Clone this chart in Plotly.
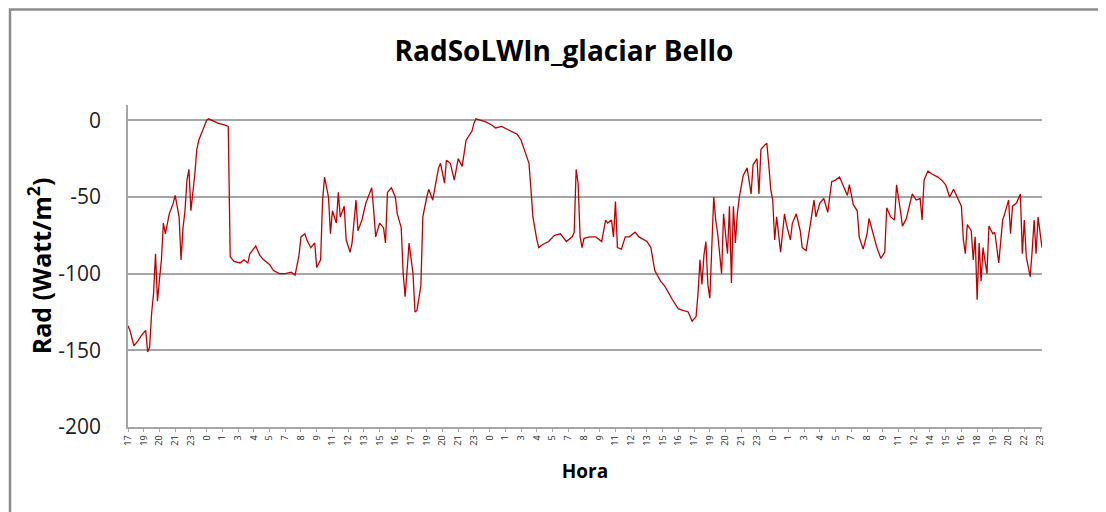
import plotly.graph_objects as go

# 10-minute sample index (x) and longwave radiation values
sample = [0,1,3,5,7,9,10,11,12,13,14,15,16,17,18,19,21,23,24,26,27,28,29,30,31,32,34,35,36,38,40,41,44,46,49,51,
          52,54,57,59,61,62,65,67,69,72,74,77,80,83,85,87,88,90,91,93,95,96,98,99,100,102,103,104,106,107,108,110,
          111,113,114,116,117,119,121,123,124,125,126,128,130,131,132,134,136,137,139,140,141,143,145,146,147,149,
          150,152,153,155,157,158,159,161,162,
          164,166,168,170,171,172,175,176,177,180,182,185,187,190,193,195,198,200,202,204,205,206,208,209,211,214,
          217,220,223,226,227,228,229,230,231,232,235,238,241,243,244,246,247,248,249,251,253,255,258,260,264,266,
          268,271,273,275,277,280,283,285,287,289,290,291,292,293,294,295,296,298,299,300,302,303,305,306,307,308,
          309,310,311,
          313,315,316,317,318,320,321,322,324,325,326,327,328,329,330,332,334,335,337,338,340,342,343,345,347,349,
          350,352,354,356,358,360,362,364,366,367,369,371,372,374,376,377,379,381,383,385,386,388,390,391,393,394,
          396,398,399,401,403,404,405,407,409,412,414,416,418,420,422,424,425,426,427,429,430,431,432,433,434,435,
          437,438,440,441,443,445,446,448,449,450,452,454,455,456,457,459,460,461,462,463,465]

rad = [-134,-137,-147,-144,-140,-137,-151,-148,-126,-113,-87,-118,-104,-91,-67,-74,-61,-54,-49,-63,-91,-70,-59,-39,
       -32,-59,-35,-19,-13,-6,0,1,-1,-2,-3,-4,
       -89,-92,-93,-91,-93,-87,-82,-88,-91,-94,-98,-100,-100,-99,-101,-88,-76,-74,-78,-83,-80,-96,-91,-52,-37,-50,
       -74,-59,-67,-47,-63,-56,-78,-86,-80,-52,-72,-65,-54,-48,-44,-59,-76,-67,-70,-80,-47,-44,-50,-61,-70,-100,
       -115,-80,-100,-125,-124,-108,-63,-50,-45,-52,-37,-31,-28,-41,-26,
       -28,-39,-25,-30,-21,-13,-7,-2,1,0,-1,-3,-5,-4,-6,-7,-9,-13,-20,-28,-45,-63,-78,-83,-81,-79,
       -75,-74,-79,-76,-73,-32,-41,-76,-83,-77,-76,-76,-79,-65,-67,-65,-76,-53,-83,-84,-76,-76,-73,-76,-79,-83,
       -98,-105,-108,-113,-117,-123,-124,-125,-131,-128,-113,-91,-107,-88,-79,-107,-116,-50,-65,-74,-100,-61,-87,-56,
       -106,-56,-80,-61,-50,
       -36,-31,-39,-48,-29,-25,-48,-19,-16,-15,-29,-45,-52,-78,-63,-86,-61,-68,-78,-67,-61,-72,-83,-85,-69,-52,
       -63,-54,-51,-60,-40,-39,-37,-43,-49,-42,-55,-59,-76,-84,-74,-64,-74,-83,-90,-86,-57,-63,-65,-42,-59,-69,
       -64,-52,-48,-52,-51,-65,-39,-33,-35,-37,-39,-42,-50,-45,-51,-56,-78,-87,-68,-72,-91,-76,-117,-80,-105,-83,
       -100,-69,-74,-73,-93,-65,-61,-52,-74,-56,-54,-48,-87,-65,-89,-102,-85,-65,-87,-63,-83]

hour_labels = ["17","19","20","21","23","0","1","3","4","5","7","8","9","11","12","13","15","16","17","19",
               "20","21","23","0","1","3","4","5","7","8","9","11","12","13","15","16","17","19","20","21",
               "23","0","1","3","4","5","7","8","9","11","12","14","15","16","18","19","20","22","23"]
label_step = 8
tick_positions = [i * label_step for i in range(len(hour_labels))]

FONT = "Open Sans"
OFF = 8  # page body margin
W, H = 1106, 512
L, R, T, B = 120, 72, 97, 93
pw, ph = W - L - R, H - T - B

def px_x(p):
    return (p - OFF - L) / pw

def px_y(p):
    return (H - B - (p - OFF)) / ph

fig = go.Figure()
fig.add_trace(go.Scatter(x=sample, y=rad, mode="lines",
                         line=dict(color="#C00000", width=1.3), showlegend=False,
                         hoverinfo="x+y"))

fig.update_layout(
    width=W, height=H,
    margin=dict(l=L, r=R, t=T, b=B),
    paper_bgcolor="white", plot_bgcolor="white",
    font=dict(family=FONT, color="#000000"),
    title=dict(text="<b>RadSoLWIn_glaciar Bello</b>", x=(564 - OFF) / W, xanchor="center",
               y=1 - (51 - OFF) / H, yanchor="middle", font=dict(family=FONT, size=28, color="#000")),
    xaxis=dict(range=[0, 465], tickmode="array", tickvals=tick_positions, ticktext=hour_labels,
               tickangle=-90, tickfont=dict(size=9, family=FONT, color="#222"),
               showgrid=False, zeroline=False, showline=True, linecolor="#a6a6a6", linewidth=1.5,
               ticks="outside", ticklen=3, tickcolor="#a6a6a6",
               title=dict(text="<b>Hora</b>", font=dict(size=19, family=FONT), standoff=20)),
    yaxis=dict(range=[-200, 10], tickmode="array", tickvals=[0, -50, -100, -150, -200],
               ticktext=["0", "-50", "-100", "-150", "-200"],
               tickfont=dict(size=21, family=FONT, color="#222"),
               showgrid=True, gridcolor="#a6a6a6", gridwidth=1.5, zeroline=False,
               showline=True, linecolor="#a6a6a6", linewidth=1.5, ticks="", ticklabelstandoff=21,
               title=dict(text="<b>Rad (Watt/m<sup>2</sup>)</b>", font=dict(size=25, family=FONT), standoff=0)),
    shapes=[dict(type="rect", xref="paper", yref="paper",
                 x0=px_x(10), x1=px_x(1130), y0=px_y(540), y1=px_y(9.5),
                 line=dict(color="#8c8c8c", width=2.5), fillcolor="rgba(0,0,0,0)", layer="below")],
)

fig.write_html("out.html")
